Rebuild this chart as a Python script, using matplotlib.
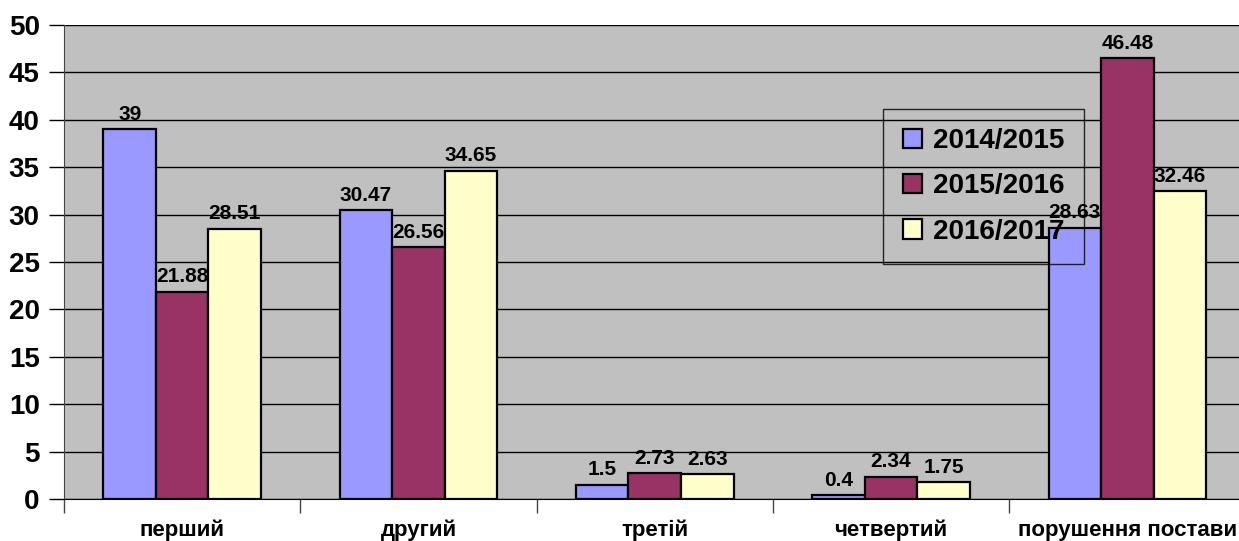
import matplotlib.pyplot as plt
import numpy as np

# Data
categories = ['перший', 'другий', 'третій', 'четвертий', 'порушення постави']
series_names = ['2014/2015', '2015/2016', '2016/2017']
values_2014 = [39, 30.47, 1.5, 0.4, 28.63]
values_2015 = [21.88, 26.56, 2.73, 2.34, 46.48]
values_2016 = [28.51, 34.65, 2.63, 1.75, 32.46]
y_ticks = [0, 5, 10, 15, 20, 25, 30, 35, 40, 45, 50]

colors = ['#9999FF', '#993366', '#FFFFCC']
plt.rcParams['font.family'] = ['Liberation Sans', 'DejaVu Sans']

fig = plt.figure(figsize=(12.39, 5.41), dpi=100)
ax = fig.add_axes([64 / 1239, 42 / 541, (1245.5 - 64) / 1239, 474 / 541])
ax.set_facecolor('#C0C0C0')

x = np.arange(len(categories))
w = 1 / 4.5
all_series = [values_2014, values_2015, values_2016]
for i, (vals, name, col) in enumerate(zip(all_series, series_names, colors)):
    bars = ax.bar(x + (i - 1) * w, vals, width=w, color=col, edgecolor='black',
                  linewidth=1.6, label=name, zorder=3)
    labels = [f'{v:g}' for v in vals]
    ax.bar_label(bars, labels=labels, padding=4, fontsize=15, fontweight='bold', zorder=5)

ax.set_xlim(-0.5, len(categories) - 0.5)
ax.set_ylim(0, 50)
ax.set_yticks(y_ticks)
ax.yaxis.grid(True, color='black', linewidth=1.0, zorder=1)
ax.set_axisbelow(True)

ax.set_xticks(x)
ax.set_xticklabels(categories, fontsize=16, fontweight='bold')
ax.tick_params(axis='x', which='major', length=0, pad=15)
ax.set_xticks(np.arange(-0.5, len(categories), 1), minor=True)
ax.tick_params(axis='x', which='minor', length=10, width=1, color='#444444')
ax.tick_params(axis='y', length=11, width=1, pad=6.5, labelsize=20)
for lab in ax.get_yticklabels():
    lab.set_fontweight('bold')

ax.spines['top'].set_visible(False)
ax.spines['right'].set_visible(False)
ax.spines['left'].set_color('#444444')
ax.spines['bottom'].set_color('black')

leg = ax.legend(loc='upper left', bbox_to_anchor=(0.6815, 0.853), frameon=True,
                fancybox=False, prop={'size': 20, 'weight': 'bold'},
                handlelength=0.7, handleheight=0.7, handletextpad=0.4,
                labelspacing=0.7, borderpad=0.7)
leg.get_frame().set_facecolor('none')
leg.get_frame().set_edgecolor('black')
leg.get_frame().set_linewidth(1.0)

plt.savefig('out.png', dpi=100, facecolor='white')
plt.close()
